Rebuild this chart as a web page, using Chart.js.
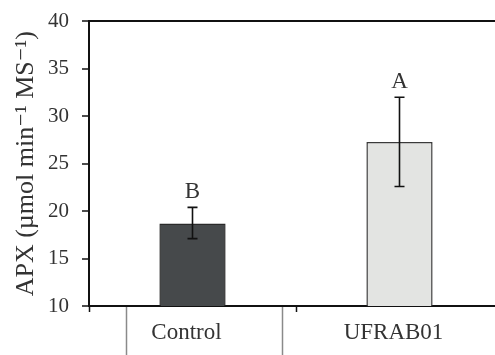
<!DOCTYPE html>
<html>
<head>
<meta charset="utf-8">
<script src="https://cdn.jsdelivr.net/npm/chart.js@4"></script>
<style>
  html, body { margin: 0; padding: 0; background: #fff; overflow: hidden; }
  #wrap { width: 503px; height: 355px; }
</style>
</head>
<body>
<div id="wrap"><canvas id="chart"></canvas></div>
<script>
const categories = ['Control', 'UFRAB01']
const apxMeans = [18.7, 27.3]
const errLow = [17.1, 22.6]
const errHigh = [20.4, 32.0]
const groupLetters = ['B', 'A']
const yMin = 10, yMax = 40, yStep = 5

const serif = "'Liberation Serif', 'DejaVu Serif', serif"

// error bars + significance letters
const errorBars = {
    id: 'errorBars',
    afterDatasetsDraw(chart) {
        const ctx = chart.ctx
        const x = chart.scales.x, y = chart.scales.y
        ctx.save()
        ctx.strokeStyle = '#111'
        ctx.lineWidth = 1.6
        categories.forEach((c, i) => {
            const px = x.getPixelForValue(i)
            const top = y.getPixelForValue(errHigh[i])
            const bot = y.getPixelForValue(errLow[i])
            ctx.beginPath()
            ctx.moveTo(px, top); ctx.lineTo(px, bot)
            ctx.moveTo(px - 5, top); ctx.lineTo(px + 5, top)
            ctx.moveTo(px - 5, bot); ctx.lineTo(px + 5, bot)
            ctx.stroke()
            ctx.fillStyle = '#333'
            ctx.font = '23px ' + serif
            ctx.textAlign = 'center'
            ctx.textBaseline = 'alphabetic'
            ctx.fillText(groupLetters[i], px, top - 9)
        })
        ctx.restore()
    }
}

// table-like box under the first category
const labelBox = {
    id: 'labelBox',
    afterDraw(chart) {
        const ctx = chart.ctx
        const x = chart.scales.x
        const c0 = x.getPixelForValue(0)
        const base = chart.chartArea.bottom
        ctx.save()
        ctx.strokeStyle = '#8a8a8a'
        ctx.lineWidth = 1.5
        ctx.beginPath()
        ctx.moveTo(c0 - 66, base + 1); ctx.lineTo(c0 - 66, chart.height)
        ctx.moveTo(c0 + 90, base + 1); ctx.lineTo(c0 + 90, chart.height)
        ctx.stroke()
        ctx.restore()
    }
}

const ctx = document.getElementById('chart').getContext('2d')
const myChart = new Chart(ctx, {
    type: 'bar',
    data: {
        labels: categories,
        datasets: [{
            data: apxMeans,
            backgroundColor: ['#46494b', '#e3e4e2'],
            borderColor: ['#2a2a2a', '#3a3a3a'],
            borderWidth: 1.5,
            borderSkipped: 'bottom',
            barPercentage: 0.32,
            categoryPercentage: 1
        }]
    },
    options: {
        responsive: true,
        maintainAspectRatio: false,
        animation: false,
        layout: { padding: { top: 20, right: 0, left: 0, bottom: 0 } },
        plugins: { legend: { display: false }, tooltip: { enabled: false } },
        scales: {
            x: {
                offset: true,
                afterFit: s => { s.height = 49 },
                grid: {
                    offset: true,
                    drawOnChartArea: false,
                    drawTicks: true,
                    tickLength: 6,
                    tickColor: '#111',
                    tickWidth: 1.5
                },
                border: { color: '#111', width: 2 },
                ticks: {
                    color: '#333',
                    padding: 7,
                    labelOffset: -6,
                    font: { family: serif, size: 23 }
                }
            },
            y: {
                min: yMin,
                max: yMax,
                afterFit: s => { s.width = 89 },
                grid: {
                    color: c => c.tick && c.tick.value === yMax ? '#111' : 'transparent',
                    lineWidth: 2,
                    tickColor: '#111',
                    tickWidth: 1.5,
                    tickLength: 7
                },
                border: { color: '#111', width: 2 },
                ticks: {
                    stepSize: yStep,
                    color: '#333',
                    padding: 13,
                    font: { family: serif, size: 21, lineHeight: 0.8 }
                },
                title: {
                    display: true,
                    text: 'APX (µmol min⁻¹ MS⁻¹)',
                    color: '#333',
                    padding: { top: 11, bottom: 0 },
                    font: { family: serif, size: 26 }
                }
            }
        }
    },
    plugins: [errorBars, labelBox]
})
</script>
</body>
</html>
